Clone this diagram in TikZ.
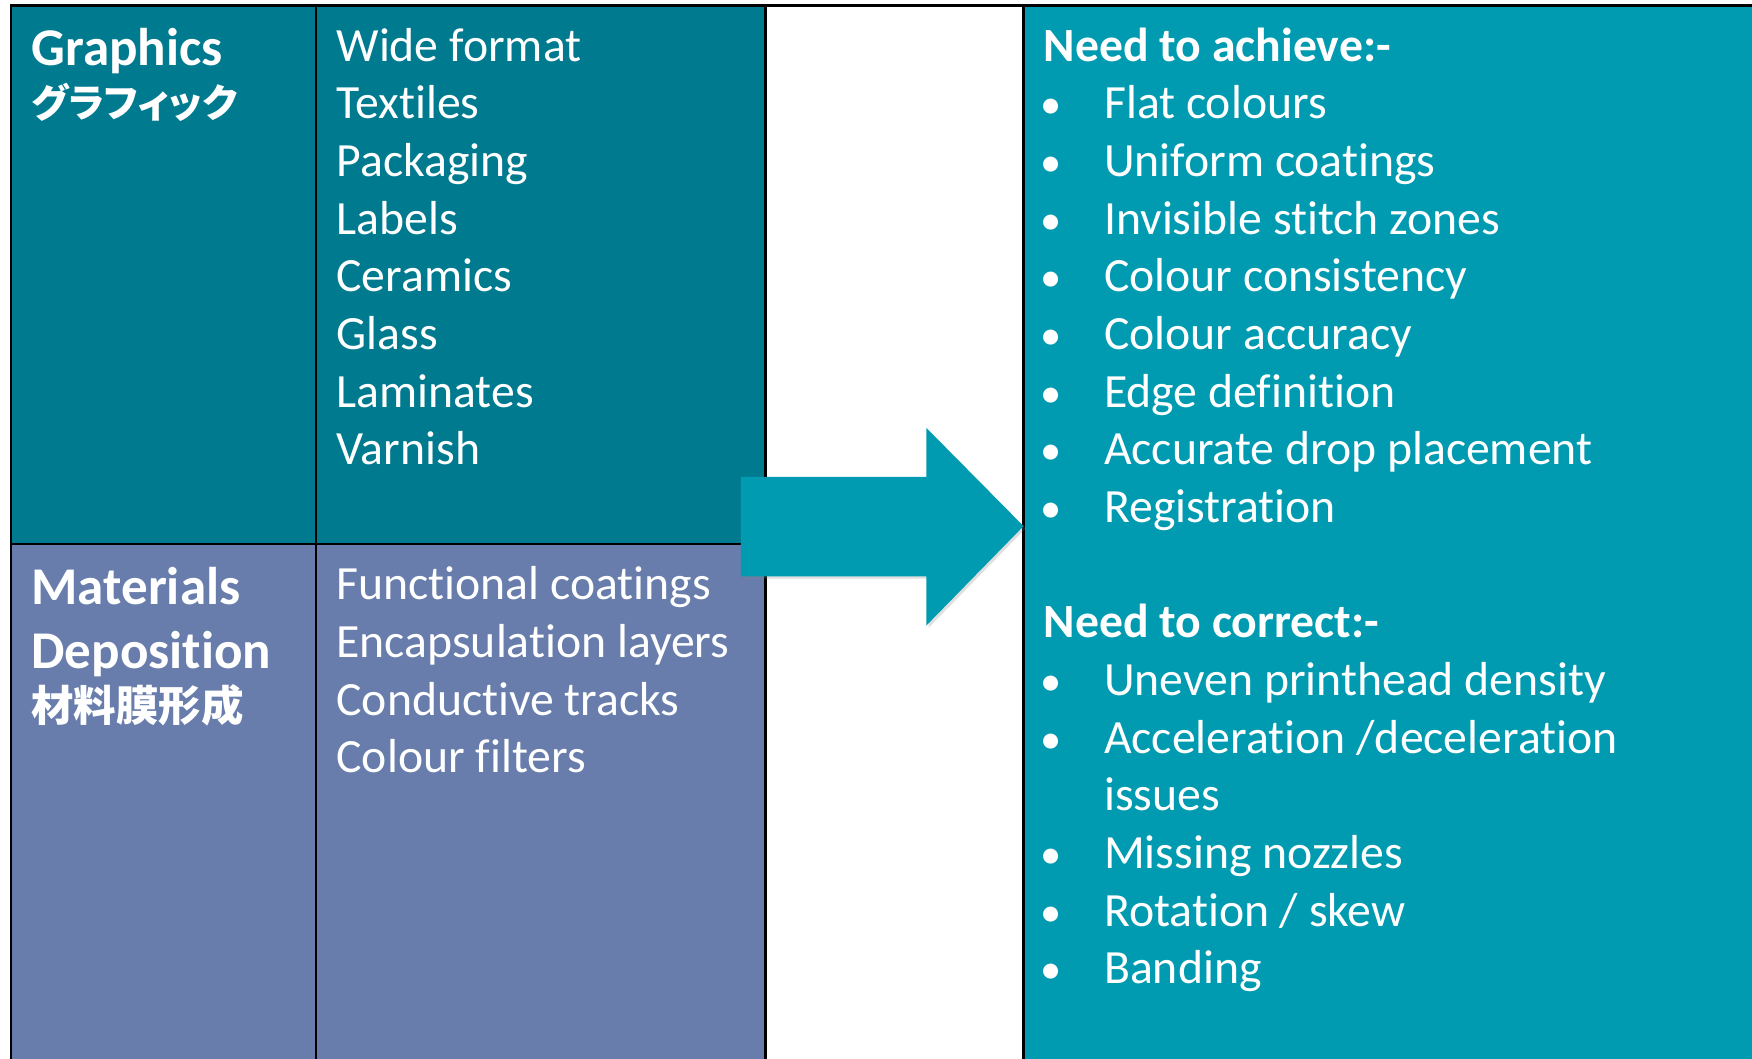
\documentclass[tikz,border=0pt]{standalone}
\usepackage{fontspec}
\setmainfont{Carlito}[Ligatures=NoCommon]
\newfontfamily\jpfont{Noto Sans CJK JP}[RawFeature=+palt]
\usetikzlibrary{shadows}
\definecolor{topteal}{RGB}{0,122,143}
\definecolor{slate}{RGB}{104,125,171}
\definecolor{rightteal}{RGB}{0,155,176}
\begin{document}
\begin{tikzpicture}[x=1pt,y=1pt,
  gridline/.style={draw=black,line width=2pt},
  body/.style={anchor=base west,inner sep=0pt,text=white,font=\fontsize{42.7}{51.6}\selectfont},
  bodyhead/.style={body,font=\fontsize{42.7}{51.6}\selectfont\bfseries},
  colhead/.style={body,font=\fontsize{47.5}{57}\selectfont\bfseries},
  jpkana/.style={body,font=\jpfont\bfseries\fontsize{35}{44}\selectfont},
  jphead/.style={body,font=\jpfont\bfseries\fontsize{38}{44}\selectfont},
  bullet/.style={body,anchor=base,font=\fontsize{38}{44}\selectfont},
  bigarrow/.style={fill=rightteal,drop shadow={opacity=0.25,shadow xshift=2pt,shadow yshift=-2pt}}]
\useasboundingbox (0,0) rectangle (1568,946.9);
% cells
\fill[topteal] (10,460) rectangle (685,942);
\fill[slate] (10,-10) rectangle (685,460);
\fill[rightteal] (916,-10) rectangle (1600,942);
% grid lines
\draw[gridline] (10,-10) -- (10,942) -- (1600,942);
\draw[gridline] (283,-10) -- (283,942);
\draw[gridline] (685,-10) -- (685,942);
\draw[gridline] (916,-10) -- (916,942);
\draw[gridline] (10,460) -- (685,460);
% arrow
\path[bigarrow] (663,520) -- (829,520) -- (829,564) -- (916,476) -- (829,387) -- (829,431) -- (663,431) -- cycle;
% left column headings
\node[colhead] (graphics) at (28,888) {Graphics};
\node[jpkana] (graphicsjp) at (28,842) {グラフィック};
\node[colhead] (materials) at (28,406) {Materials};
\node[colhead] (deposition) at (28,349) {Deposition};
\node[jphead] (depositionjp) at (28,301) {材料膜形成};
% middle column
\foreach \t [count=\i] in {Wide format,Textiles,Packaging,Labels,Ceramics,Glass,Laminates,Varnish}
  \node[body,name=g\i] at (301,{892-(\i-1)*51.6}) {\t};
\foreach \t [count=\i] in {Functional coatings,Encapsulation layers,Conductive tracks,Colour filters}
  \node[body,name=d\i] at (301,{410-(\i-1)*51.6}) {\t};
% right column
\node[bodyhead] (achieve) at (934,892) {Need to achieve:-};
\foreach \t [count=\i] in {Flat colours,Uniform coatings,Invisible stitch zones,Colour consistency,Colour accuracy,Edge definition,Accurate drop placement,Registration}{
  \node[bullet,name=ab\i] at (941,{892-\i*51.6}) {•};
  \node[body,name=a\i] at (988,{892-\i*51.6}) {\t};
}
\node[bodyhead] (correct) at (934,{892-10*51.6}) {Need to correct:-};
\foreach \k [count=\i] in {11,12,14,15,16}
  \node[bullet,name=cb\i] at (941,{892-\k*51.6}) {•};
\node[body] (c1) at (988,{892-11*51.6}) {Uneven printhead density};
\node[body] (c2) at (988,{892-12*51.6}) {Acceleration /deceleration};
\node[body] (c2b) at (988,{892-13*51.6}) {issues};
\node[body] (c3) at (988,{892-14*51.6}) {Missing nozzles};
\node[body] (c4) at (988,{892-15*51.6}) {Rotation / skew};
\node[body] (c5) at (988,{892-16*51.6}) {Banding};
\end{tikzpicture}
\end{document}
